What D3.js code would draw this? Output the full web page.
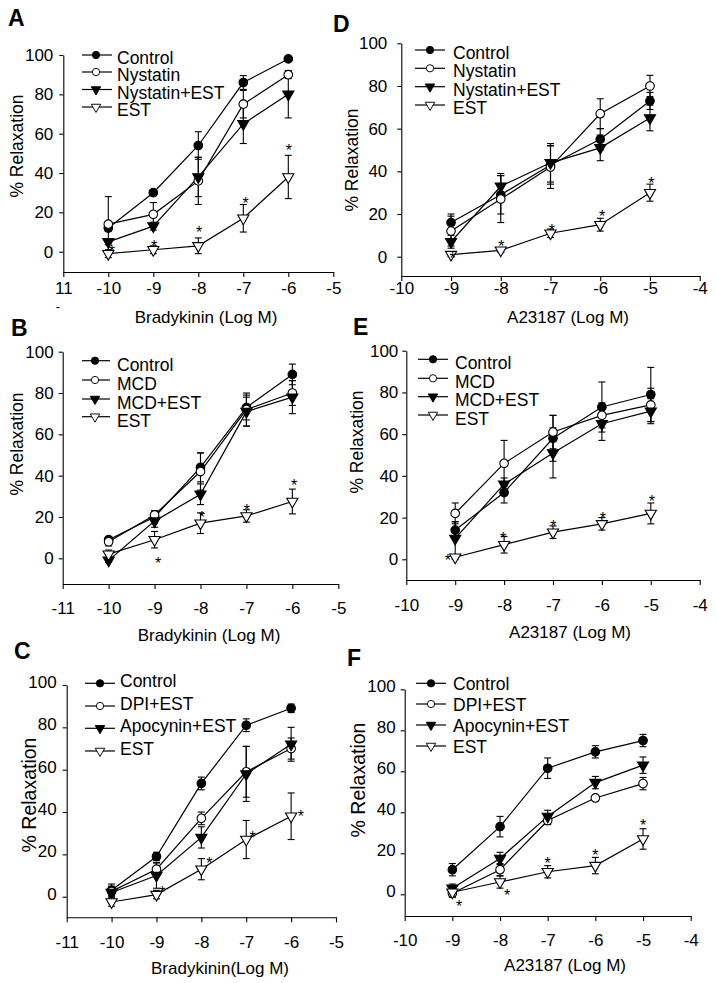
<!DOCTYPE html>
<html><head><meta charset="utf-8">
<script src="https://cdn.jsdelivr.net/npm/d3@7"></script>
<style>
body{margin:0;background:#fff}
svg{display:block}
text{font-family:"Liberation Sans",Arial,Helvetica,sans-serif;fill:#000}
</style>
</head><body>
<svg id="chart" width="717" height="983"></svg>
<script>
// ---------- shared axes ----------
const bkDoses = [-10, -9, -8, -7, -6];
const a23Doses = [-9, -8, -7, -6, -5];
const bkTicks = [-11, -10, -9, -8, -7, -6, -5];
const a23Ticks = [-10, -9, -8, -7, -6, -5, -4];
const yTicks = [0, 20, 40, 60, 80, 100];

// ---------- Panel A (Bradykinin, Nystatin) ----------
const aNames = ["Control", "Nystatin", "Nystatin+EST", "EST"];
const aControl = [12, 30, 54, 86, 98];
const aControlErr = [1.5, 1.5, 7, 3.5, 1];
const aNystatin = [14, 19, 36, 75, 90];
const aNystatinErr = [14, 6, 12, 7, 2];
const aNystatinEst = [5, 13, 38, 65, 80];
const aNystatinEstErr = [1.5, 2, 10, 10, 12];
const aEst = [-1, 1, 3, 17, 38];
const aEstErr = [2, 2, 4, 7, 11];
const aStarX = [-9.92, -8.98, -7.98, -6.95, -5.99];
const aStarY = [1.7, 4.3, 11.4, 26.3, 53.4];

// ---------- Panel D (A23187, Nystatin) ----------
const dNames = ["Control", "Nystatin", "Nystatin+EST", "EST"];
const dControl = [16, 29, 43, 55, 73];
const dControlErr = [4, 9, 9, 5, 4];
const dNystatin = [12, 27, 42, 67, 80];
const dNystatinErr = [7, 11, 10, 7, 5];
const dNystatinEst = [7, 33, 44, 51, 65];
const dNystatinEstErr = [3, 6, 9, 6, 6];
const dEst = [1, 3, 11, 15, 30];
const dEstErr = [1, 1, 2, 3, 4];
const dStarX = [-8.97, -7.99, -6.97, -5.96, -4.97];
const dStarY = [0.8, 6.6, 14, 20.3, 36];

// ---------- Panel B (Bradykinin, MCD) ----------
const bNames = ["Control", "MCD", "MCD+EST", "EST"];
const bControl = [9, 20, 44, 73, 89];
const bControlErr = [1.5, 3, 7, 6, 5];
const bMcd = [8, 21, 42, 72, 80];
const bMcdErr = [2, 2, 9, 8, 6];
const bMcdEst = [-1, 18, 31, 71, 78];
const bMcdEstErr = [1, 3, 5, 7, 8];
const bEst = [2, 9, 17, 20.5, 27.5];
const bEstErr = [2, 4, 5, 3, 6];
const bStarX = [-8.92, -7.97, -6.99, -5.96];
const bStarY = [-0.8, 21.3, 25, 37];

// ---------- Panel E (A23187, MCD) ----------
const eNames = ["Control", "MCD", "MCD+EST", "EST"];
const eControl = [14, 32, 58, 73, 79];
const eControlErr = [4, 5, 11, 12, 13];
const eMcd = [22, 46, 61, 69, 74];
const eMcdErr = [5, 11, 8, 6, 8];
const eMcdEst = [10, 36, 51, 65, 71];
const eMcdEstErr = [8, 3, 12, 8, 6];
const eEst = [1, 7, 13, 17, 22];
const eEstErr = [1, 4, 3, 3, 5];
const eStarX = [-9.15, -8.02, -6.99, -5.98, -4.98];
const eStarY = [1, 11.6, 17.5, 21.2, 29.2];

// ---------- Panel C (Bradykinin, DPI / Apocynin) ----------
const cNames = ["Control", "DPI+EST", "Apocynin+EST", "EST"];
const cControl = [3, 19, 53.5, 81, 89];
const cControlErr = [3, 2, 3, 3, 2];
const cDpiEst = [2.5, 13, 37, 59, 70];
const cDpiEstErr = [2, 3, 3, 12, 5];
const cApoEst = [2, 10, 28, 58, 72];
const cApoEstErr = [3, 6, 5, 13, 8];
const cEst = [-2.5, 1, 13, 27, 38];
const cEstErr = [2, 2, 5, 9, 11];
const cStarX = [-8.87, -7.82, -6.86, -5.78];
const cStarY = [3.5, 17.3, 29.6, 39.4];

// ---------- Panel F (A23187, DPI / Apocynin) ----------
const fNames = ["Control", "DPI+EST", "Apocynin+EST", "EST"];
const fControl = [12, 33, 61.5, 69.5, 75];
const fControlErr = [3, 5, 5, 3, 3];
const fDpiEst = [0.5, 12, 36, 47, 54];
const fDpiEstErr = [2, 3, 2, 1, 3];
const fApoEst = [3, 17.5, 38, 54.5, 63];
const fApoEstErr = [2, 3, 3, 3, 4];
const fEst = [1, 6, 11, 14, 27];
const fEstErr = [2, 3, 3, 4, 5];
const fStarX = [-8.86, -7.85, -7.0, -6.0, -5.0];
const fStarY = [-4.4, 1.3, 16.7, 20.5, 35.4];

// ---------- layout (pixels) ----------
const panels = [
  {id:"A", doses:bkDoses, ticks:bkTicks, names:aNames,
   series:[aControl,aNystatin,aNystatinEst,aEst], errs:[aControlErr,aNystatinErr,aNystatinEstErr,aEstErr],
   starX:aStarX, starY:aStarY, xlabel:"Bradykinin (Log M)",
   L:{xl:63.3, xr:333.3, y100:55, y0:251.7, axisY:272, xLabOff:16.5, yPad:6, yLabDy:0,
      title:[8,26], ylab:[17,146,17.5], xlab:[206,317],
      leg:{x1:82, x2:112, mx:96, tx:117, rows:[55,72,89.5,107], dy:3}}},
  {id:"D", doses:a23Doses, ticks:a23Ticks, names:dNames,
   series:[dControl,dNystatin,dNystatinEst,dEst], errs:[dControlErr,dNystatinErr,dNystatinEstErr,dEstErr],
   starX:dStarX, starY:dStarY, xlabel:"A23187 (Log M)",
   L:{xl:401.3, xr:699.7, y100:43.3, y0:256.7, axisY:276, xLabOff:12.5, yPad:10, yLabDy:0,
      title:[333,32], ylab:[352,160,17.5], xlab:[568,317],
      leg:{x1:415, x2:445, mx:430, tx:453, rows:[50,68.3,86.7,105], dy:3}}},
  {id:"B", doses:bkDoses, ticks:bkTicks, names:bNames,
   series:[bControl,bMcd,bMcdEst,bEst], errs:[bControlErr,bMcdErr,bMcdEstErr,bEstErr],
   starX:bStarX, starY:bStarY, xlabel:"Bradykinin (Log M)",
   L:{xl:62.7, xr:338.3, y100:351.7, y0:558.3, axisY:584, xLabOff:24, yPad:5, yLabDy:0,
      title:[11,336], ylab:[17,444,17.5], xlab:[209,635],
      leg:{x1:82, x2:110, mx:95, tx:117, rows:[360.7,380,399,416.7], dy:4}}},
  {id:"E", doses:a23Doses, ticks:a23Ticks, names:eNames,
   series:[eControl,eMcd,eMcdEst,eEst], errs:[eControlErr,eMcdErr,eMcdEstErr,eEstErr],
   starX:eStarX, starY:eStarY, xlabel:"A23187 (Log M)",
   L:{xl:406.3, xr:699.7, y100:350.7, y0:559.3, axisY:580, xLabOff:25, yPad:4, yLabDy:0,
      title:[353,335], ylab:[357,442,17.5], xlab:[570,632],
      leg:{x1:418, x2:448, mx:433, tx:455, rows:[359.3,378.3,396.7,415], dy:3.5}}},
  {id:"C", doses:bkDoses, ticks:bkTicks, names:cNames,
   series:[cControl,cDpiEst,cApoEst,cEst], errs:[cControlErr,cDpiEstErr,cApoEstErr,cEstErr],
   starX:cStarX, starY:cStarY, xlabel:"Bradykinin(Log M)",
   L:{xl:66.7, xr:336, y100:685, y0:896.7, axisY:917.3, xLabOff:24.4, yPad:6, yLabDy:-3,
      title:[14,659], ylab:[29,795,19.5], xlab:[220,968],
      leg:{x1:85, x2:115, mx:100, tx:120, rows:[683.3,706,728.3,751], dy:-2}}},
  {id:"F", doses:a23Doses, ticks:a23Ticks, names:fNames,
   series:[fControl,fDpiEst,fApoEst,fEst], errs:[fControlErr,fDpiEstErr,fApoEstErr,fEstErr],
   starX:fStarX, starY:fStarY, xlabel:"A23187 (Log M)",
   L:{xl:404.7, xr:690.7, y100:689.3, y0:894.3, axisY:916, xLabOff:24, yPad:5, yLabDy:-3,
      title:[347,666], ylab:[358,780,19.5], xlab:[565,965],
      leg:{x1:416, x2:446, mx:431, tx:453, rows:[683.3,704,725,746], dy:1}}}
];

const svg = d3.select("#chart");
svg.append("rect").attr("width",717).attr("height",983).attr("fill","#fff");

const FONT = '"Liberation Sans", Arial, Helvetica, sans-serif';
const circ = d3.symbol().type(d3.symbolCircle).size(58)();
const tri = d3.symbol().type(d3.symbolTriangle).size(54)();
const markerStyles = [
  {path:circ, fill:"#000", rot:0},
  {path:circ, fill:"#fff", rot:0},
  {path:tri, fill:"#000", rot:180},
  {path:tri, fill:"#fff", rot:180}
];

function drawMarker(g, x, y, s, scale) {
  g.append("path").attr("d", s.path)
    .attr("transform", `translate(${x},${y}) rotate(${s.rot}) scale(${scale||1})`)
    .attr("fill", s.fill).attr("stroke", "#000").attr("stroke-width", 1.1);
}

panels.forEach(p => {
  const L = p.L;
  const g = svg.append("g");
  const x = d3.scaleLinear().domain([p.ticks[0], p.ticks[p.ticks.length-1]]).range([L.xl, L.xr]);
  const k = (L.y0 - L.y100) / 100;
  const yMin = -(L.axisY - L.y0) / k;
  const y = d3.scaleLinear().domain([yMin, 100]).range([L.axisY, L.y100]);

  // x axis
  const gx = g.append("g").attr("transform", `translate(0,${L.axisY})`)
    .call(d3.axisBottom(x).tickValues(p.ticks).tickSize(5).tickSizeOuter(0)
      .tickFormat(d => (p.id === "A" && d === -11) ? "11" : String(d)));
  gx.selectAll("text").attr("y", L.xLabOff).attr("dy", "0.35em");
  // y axis
  const gy = g.append("g").attr("transform", `translate(${L.xl},0)`)
    .call(d3.axisLeft(y).tickValues(yTicks).tickSize(4).tickSizeOuter(0).tickPadding(L.yPad)
      .tickFormat(d => String(d)));
  gy.selectAll("text").attr("dy", "0.32em").attr("transform", `translate(0,${L.yLabDy})`);
  [gx, gy].forEach(a => {
    a.attr("font-family", FONT).attr("font-size", 17);
    a.selectAll("path,line").attr("stroke", "#000").attr("stroke-width", 1.1);
    a.selectAll("text").attr("fill", "#000");
  });

  if (p.id === "A") {
    g.append("text").attr("x", 58).attr("y", 311).attr("font-size", 13).attr("text-anchor","middle").text("-");
  }

  // title
  g.append("text").attr("x", L.title[0]).attr("y", L.title[1])
    .attr("font-size", 23).attr("font-weight", "bold").text(p.id);
  // y label
  g.append("text").attr("transform", `translate(${L.ylab[0]},${L.ylab[1]}) rotate(-90)`)
    .attr("text-anchor", "middle").attr("dy", "0.35em").attr("font-size", L.ylab[2]).text("% Relaxation");
  // x label
  g.append("text").attr("x", L.xlab[0]).attr("y", L.xlab[1]).attr("dy", "0.35em")
    .attr("text-anchor", "middle").attr("font-size", 17).text(p.xlabel);

  const line = d3.line().x((d, i) => x(p.doses[i])).y(d => y(d));

  // error bars
  p.series.forEach((vals, si) => {
    const errs = p.errs[si];
    vals.forEach((v, i) => {
      const cx = x(p.doses[i]);
      const e = errs[i];
      if (!e) return;
      const top = y(v + e), bot = y(v - e);
      g.append("line").attr("x1", cx).attr("x2", cx).attr("y1", top).attr("y2", bot)
        .attr("stroke", "#000").attr("stroke-width", 1.1);
      [top, bot].forEach(yy => g.append("line").attr("x1", cx - 3.5).attr("x2", cx + 3.5)
        .attr("y1", yy).attr("y2", yy).attr("stroke", "#000").attr("stroke-width", 1.1));
    });
  });
  // lines
  p.series.forEach(vals => {
    g.append("path").attr("d", line(vals)).attr("fill", "none").attr("stroke", "#000").attr("stroke-width", 1.2);
  });
  // markers
  p.series.forEach((vals, si) => {
    vals.forEach((v, i) => drawMarker(g, x(p.doses[i]), y(v), markerStyles[si]));
  });
  // asterisks
  p.starX.forEach((sx, i) => {
    g.append("text").attr("x", x(sx)).attr("y", y(p.starY[i]) + 9)
      .attr("text-anchor", "middle").attr("font-size", 16).text("*");
  });

  // legend
  const lg = L.leg;
  p.names.forEach((nm, i) => {
    const ry = lg.rows[i];
    g.append("line").attr("x1", lg.x1).attr("x2", lg.x2).attr("y1", ry).attr("y2", ry)
      .attr("stroke", "#000").attr("stroke-width", 1.2);
    drawMarker(g, lg.mx, ry, markerStyles[i], 0.85);
    g.append("text").attr("x", lg.tx).attr("y", ry + lg.dy).attr("dy", "0.35em")
      .attr("font-size", 17.5).text(nm);
  });
});
</script>
</body></html>
